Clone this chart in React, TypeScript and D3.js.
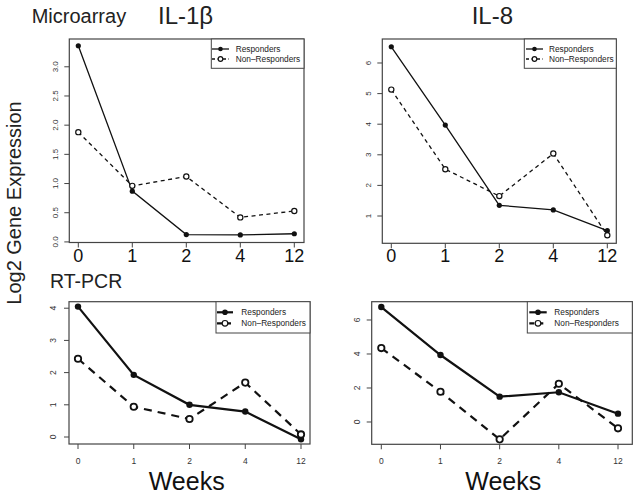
import React from "react";
import * as d3 from "d3";

// ---- data ----
const weeks = ["0", "1", "2", "4", "12"];

const il1bMicroResp = [3.36, 0.87, 0.125, 0.12, 0.14];
const il1bMicroNon = [1.88, 0.96, 1.12, 0.42, 0.53];
const il8MicroResp = [6.53, 3.97, 1.35, 1.2, 0.52];
const il8MicroNon = [5.13, 2.53, 1.65, 3.04, 0.37];
const il1bPcrResp = [4.05, 1.93, 1.0, 0.79, -0.07];
const il1bPcrNon = [2.43, 0.94, 0.56, 1.69, 0.08];
const il8PcrResp = [6.76, 3.94, 1.49, 1.75, 0.49];
const il8PcrNon = [4.35, 1.78, -1.02, 2.25, -0.37];

const il1bMicroTicks = [0, 0.5, 1.0, 1.5, 2.0, 2.5, 3.0];
const il8MicroTicks = [1, 2, 3, 4, 5, 6];
const il1bPcrTicks = [0, 1, 2, 3, 4];
const il8PcrTicks = [0, 2, 4, 6];

const seriesNames = ["Responders", "Non\u2013Responders"];

const FONT = "'Liberation Sans', Arial, Helvetica, sans-serif";

type PanelProps = {
  box: [number, number, number, number]; // left, top, right, bottom
  xRange: [number, number];
  yDomain: [number, number];
  yTicks: number[];
  yFmt: (v: number) => string;
  resp: number[];
  non: number[];
  big: boolean; // top panels: big x tick labels, thin lines
  yLabelOffset: number;
  legendLeft: number;
  legendBottom: number;
  legendRows: [number, number];
  legendSym: [number, number];
  legendTextX: number;
};

function Panel(p: PanelProps) {
  const [L, T, R, B] = p.box;
  const x = d3.scalePoint<string>().domain(weeks).range(p.xRange);
  const y = d3.scaleLinear().domain(p.yDomain).range([B, T]);
  const line = d3
    .line<number>()
    .x((_, i) => x(weeks[i]) as number)
    .y((d) => y(d));
  const lw = p.big ? 1.3 : 2.2;
  const dash = p.big ? "4 3.5" : "8 6";
  const r = p.big ? 2.6 : 3.2;
  const axisColor = "#444";
  return (
    <g>
      {/* y axis ticks */}
      {p.yTicks.map((t) => (
        <g key={"y" + t}>
          <line x1={L - 5} x2={L} y1={y(t)} y2={y(t)} stroke={axisColor} strokeWidth={1} />
          <text
            transform={`translate(${L - p.yLabelOffset},${y(t)}) rotate(-90)`}
            textAnchor="middle"
            fontSize={p.big ? 8 : 8.5}
            fill="#333"
            fontFamily={FONT}
          >
            {p.yFmt(t)}
          </text>
        </g>
      ))}
      {/* x axis ticks */}
      {weeks.map((w) => (
        <g key={"x" + w}>
          <line x1={x(w)} x2={x(w)} y1={B} y2={B + 5} stroke={axisColor} strokeWidth={1} />
          <text
            x={x(w)}
            y={p.big ? 262 : 464}
            textAnchor="middle"
            fontSize={p.big ? 18 : 8.5}
            fill={p.big ? "#111" : "#333"}
            fontFamily={FONT}
          >
            {w}
          </text>
        </g>
      ))}
      {/* series */}
      <path d={line(p.non) || ""} fill="none" stroke="#111" strokeWidth={lw} strokeDasharray={dash} />
      <path d={line(p.resp) || ""} fill="none" stroke="#111" strokeWidth={lw} />
      {p.resp.map((v, i) => (
        <circle key={"r" + i} cx={x(weeks[i])} cy={y(v)} r={r} fill="#111" />
      ))}
      {p.non.map((v, i) => (
        <circle
          key={"n" + i}
          cx={x(weeks[i])}
          cy={y(v)}
          r={r}
          fill="#fff"
          stroke="#111"
          strokeWidth={p.big ? 1.2 : 1.8}
        />
      ))}
      {/* box */}
      <rect x={L} y={T} width={R - L} height={B - T} fill="none" stroke={axisColor} strokeWidth={1.2} />
      {/* legend */}
      <rect
        x={p.legendLeft}
        y={T}
        width={R - p.legendLeft}
        height={p.legendBottom - T}
        fill="#fff"
        stroke={axisColor}
        strokeWidth={1}
      />
      {seriesNames.map((name, k) => {
        const ry = p.legendRows[k];
        const cx = (p.legendSym[0] + p.legendSym[1]) / 2;
        return (
          <g key={name}>
            <line
              x1={p.legendSym[0]}
              x2={p.legendSym[1]}
              y1={ry}
              y2={ry}
              stroke="#111"
              strokeWidth={lw}
              strokeDasharray={k === 1 ? (p.big ? "3 2.5" : "5 4") : undefined}
            />
            <circle
              cx={cx}
              cy={ry}
              r={p.big ? 2.3 : 2.8}
              fill={k === 0 ? "#111" : "#fff"}
              stroke="#111"
              strokeWidth={k === 0 ? 0 : 1.2}
            />
            <text x={p.legendTextX} y={ry + 3} fontSize={8.3} fill="#222" fontFamily={FONT}>
              {name}
            </text>
          </g>
        );
      })}
    </g>
  );
}

export default function App() {
  return (
    <svg
      width={637}
      height={498}
      style={{ position: "fixed", left: 0, top: 0, background: "#fff" }}
      fontFamily={FONT}
    >
      <rect x={0} y={0} width={637} height={498} fill="#fff" />
      <text x={31.7} y={22.7} fontSize={20} fill="#222">Microarray</text>
      <text x={158} y={23.5} fontSize={24} fill="#222">IL-1β</text>
      <text x={471.7} y={24} fontSize={24} fill="#222">IL-8</text>
      <text x={50} y={288} fontSize={19.5} fill="#222">RT-PCR</text>
      <text transform="translate(21,203) rotate(-90)" textAnchor="middle" fontSize={20} fill="#222">
        Log2 Gene Expression
      </text>
      <text x={186.7} y={490} textAnchor="middle" fontSize={25} fill="#111">Weeks</text>
      <text x={503.3} y={490} textAnchor="middle" fontSize={25} fill="#111">Weeks</text>

      <Panel
        box={[69.3, 39, 304, 242.5]}
        xRange={[78.3, 294.3]}
        yDomain={[-0.01, 3.476]}
        yTicks={il1bMicroTicks}
        yFmt={(v) => d3.format(".1f")(v)}
        resp={il1bMicroResp}
        non={il1bMicroNon}
        big={true}
        yLabelOffset={11}
        legendLeft={211.3}
        legendBottom={68.3}
        legendRows={[49, 59]}
        legendSym={[212, 229]}
        legendTextX={235.7}
      />
      <Panel
        box={[382.3, 39, 616.3, 243.3]}
        xRange={[391.3, 607.3]}
        yDomain={[0.108, 6.784]}
        yTicks={il8MicroTicks}
        yFmt={(v) => String(v)}
        resp={il8MicroResp}
        non={il8MicroNon}
        big={true}
        yLabelOffset={11.3}
        legendLeft={524.3}
        legendBottom={68.3}
        legendRows={[49, 59]}
        legendSym={[526, 543]}
        legendTextX={549}
      />
      <Panel
        box={[69, 301.7, 310, 444]}
        xRange={[78, 301]}
        yDomain={[-0.217, 4.202]}
        yTicks={il1bPcrTicks}
        yFmt={(v) => String(v)}
        resp={il1bPcrResp}
        non={il1bPcrNon}
        big={false}
        yLabelOffset={13}
        legendLeft={216}
        legendBottom={333}
        legendRows={[312.3, 323.3]}
        legendSym={[217, 233]}
        legendTextX={241.3}
      />
      <Panel
        box={[371.7, 301.7, 632.3, 444.3]}
        xRange={[381.3, 618]}
        yDomain={[-1.312, 7.076]}
        yTicks={il8PcrTicks}
        yFmt={(v) => String(v)}
        resp={il8PcrResp}
        non={il8PcrNon}
        big={false}
        yLabelOffset={11.7}
        legendLeft={527.3}
        legendBottom={333}
        legendRows={[312.3, 323.3]}
        legendSym={[529.3, 546.7]}
        legendTextX={554.3}
      />
    </svg>
  );
}
